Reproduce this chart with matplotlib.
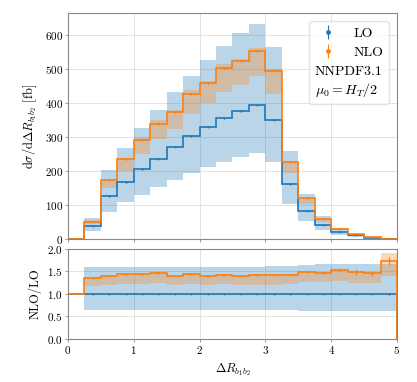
import numpy as np
import matplotlib
matplotlib.use('Agg')
import matplotlib.pyplot as plt

# bin edges of the Delta R distribution
edges = np.arange(0, 5.01, 0.25)

# LO cross section [fb] with scale band
lo = [0, 38, 126, 167, 205, 237, 271, 302, 330, 355, 376, 394, 350, 161, 82, 41, 22, 11, 4, 1.2]
lo_up = [0, 61, 203, 267, 326, 381, 432, 481, 528, 569, 605, 632, 564, 259, 132, 68, 33, 16, 6, 2]
lo_dn = [0, 25, 80, 108, 131, 154, 174, 195, 213, 227, 242, 254, 227, 103, 53, 26, 13, 7, 2.5, 0.7]
lo_err = [0, 0.5, 1, 1, 1, 1, 1, 1, 1, 1, 1, 1, 1, 1, 0.5, 0.5, 0.3, 0.2, 0.1, 0.05]

# NLO cross section [fb] with scale band
nlo = [0, 51, 174, 236, 291, 340, 375, 428, 459, 502, 524, 554, 495, 227, 120, 59, 31, 14, 5, 1.8]
nlo_up = [0, 55, 176, 240, 299, 350, 380, 440, 465, 514, 530, 561, 499, 231, 123, 61, 32, 15, 6, 2]
nlo_dn = [0, 45, 151, 201, 250, 293, 323, 368, 399, 432, 453, 479, 426, 195, 102, 50, 26, 12, 4, 1.5]
nlo_err = [0, 1, 2, 2, 2, 3, 3, 3, 3, 3, 3, 3, 3, 2, 1, 1, 0.8, 0.6, 0.3, 0.15]

# ratio panel
r_lo_up = [1, 1.61, 1.61, 1.61, 1.61, 1.61, 1.61, 1.61, 1.61, 1.61, 1.61, 1.61, 1.62, 1.62, 1.64, 1.66, 1.66, 1.66, 1.66, 1.66]
r_lo_dn = [1, 0.65, 0.64, 0.64, 0.64, 0.64, 0.64, 0.64, 0.64, 0.64, 0.64, 0.64, 0.64, 0.64, 0.63, 0.63, 0.63, 0.62, 0.62, 0.62]
r_lo_err = [0, 0.01, 0.01, 0.01, 0.01, 0.01, 0.01, 0.01, 0.01, 0.01, 0.01, 0.01, 0.01, 0.01, 0.01, 0.01, 0.01, 0.01, 0.01, 0.02]
r_nlo = [1, 1.35, 1.39, 1.44, 1.44, 1.46, 1.40, 1.45, 1.40, 1.43, 1.40, 1.42, 1.42, 1.43, 1.49, 1.47, 1.53, 1.49, 1.46, 1.73]
r_nlo_up = [1, 1.37, 1.41, 1.46, 1.46, 1.48, 1.42, 1.47, 1.42, 1.45, 1.42, 1.44, 1.44, 1.45, 1.51, 1.49, 1.55, 1.51, 1.48, 1.90]
r_nlo_dn = [1, 1.18, 1.20, 1.23, 1.23, 1.24, 1.19, 1.23, 1.20, 1.22, 1.19, 1.21, 1.21, 1.22, 1.27, 1.26, 1.28, 1.25, 1.25, 1.39]
r_nlo_err = [0, 0.01, 0.01, 0.01, 0.01, 0.01, 0.01, 0.01, 0.01, 0.01, 0.01, 0.01, 0.01, 0.01, 0.02, 0.02, 0.05, 0.06, 0.05, 0.09]

plt.rcParams['font.family'] = 'serif'
plt.rcParams['font.serif'] = ['cmr10']
plt.rcParams['mathtext.fontset'] = 'cm'
plt.rcParams['axes.formatter.use_mathtext'] = True
plt.rcParams['font.size'] = 8

c_lo = '#1f77b4'
c_nlo = '#ff7f0e'
centers = 0.5 * (edges[1:] + edges[:-1])

fig = plt.figure(figsize=(4.17, 3.82), dpi=100)
ax = fig.add_axes([0.163, 0.374, 0.789, 0.592])
axr = fig.add_axes([0.163, 0.1126, 0.789, 0.2356], sharex=ax)

# main panel
ax.stairs(lo_up[1:], edges[1:], baseline=lo_dn[1:], fill=True, color=c_lo, alpha=0.3, lw=0)
ax.stairs(nlo_up[1:], edges[1:], baseline=nlo_dn[1:], fill=True, color=c_nlo, alpha=0.3, lw=0)
ax.stairs(lo, edges, baseline=None, color=c_lo, lw=1.2)
ax.stairs(nlo, edges, baseline=None, color=c_nlo, lw=1.2)
h_lo = ax.errorbar(centers[1:], lo[1:], yerr=lo_err[1:], fmt='.', ms=0.8, color=c_lo, elinewidth=0.8)
h_nlo = ax.errorbar(centers[1:], nlo[1:], yerr=nlo_err[1:], fmt='.', ms=0.8, color=c_nlo, elinewidth=0.8)

ax.set_xlim(0, 5)
ax.set_ylim(0, 665)
ax.set_yticks([0, 100, 200, 300, 400, 500, 600])
ax.set_ylabel(r'$\mathrm{d}\sigma/\mathrm{d}\Delta R_{b_1b_2}$ [fb]', fontsize=9)
ax.tick_params(labelbottom=False)

leg = ax.legend([h_lo, h_nlo], ['LO', 'NLO'], title='NNPDF3.1\n$\\mu_0 = H_T/2$',
                loc='upper right', fontsize=10, title_fontsize=10, markerscale=6,
                handlelength=2.0, borderaxespad=0.6, framealpha=0.8, edgecolor='#dddddd')
leg._legend_box._children.reverse()

# ratio panel
axr.stairs(r_lo_up[1:], edges[1:], baseline=r_lo_dn[1:], fill=True, color=c_lo, alpha=0.3, lw=0)
axr.stairs(r_nlo_up[1:], edges[1:], baseline=r_nlo_dn[1:], fill=True, color=c_nlo, alpha=0.3, lw=0)
axr.stairs([1] * len(lo), edges, baseline=0, color=c_lo, lw=1.2)
axr.stairs(r_nlo, edges, baseline=0, color=c_nlo, lw=1.2)
axr.errorbar(centers[1:], [1] * (len(lo) - 1), yerr=r_lo_err[1:], fmt='.', ms=0.8, color=c_lo, elinewidth=0.8)
axr.errorbar(centers[1:], r_nlo[1:], yerr=r_nlo_err[1:], fmt='.', ms=0.8, color=c_nlo, elinewidth=0.8)

axr.set_ylim(0, 2.0)
axr.set_yticks([0, 0.5, 1.0, 1.5, 2.0])
axr.set_xticks([0, 1, 2, 3, 4, 5])
axr.set_ylabel('NLO/LO', fontsize=9)
axr.set_xlabel(r'$\Delta R_{b_1b_2}$', fontsize=9)

for a in (ax, axr):
    a.grid(True, color='#dddddd', lw=0.6)
    a.set_axisbelow(True)
    a.tick_params(length=2, width=0.6, color='#888888', labelsize=8, pad=1.5)
    for s in a.spines.values():
        s.set_color('#888888')
        s.set_linewidth(0.8)

fig.savefig('out.png', dpi=100)
